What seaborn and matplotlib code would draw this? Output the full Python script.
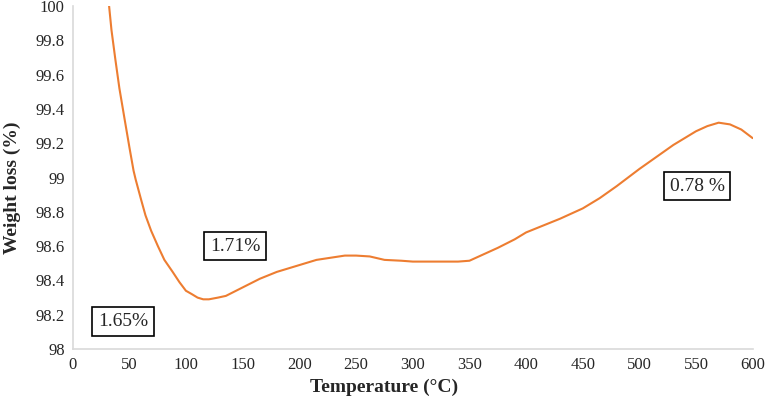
import matplotlib
matplotlib.use("Agg")
import matplotlib.pyplot as plt
import seaborn as sns
import pandas as pd

# TGA curve
temperature = [31.9, 34, 37.4, 41, 45.6, 50, 53.5, 55.3, 60.2, 64, 69, 75, 80.7, 88, 94,
               99.7, 105, 110, 115, 120, 128, 135, 150, 165, 180, 200, 215, 225, 240,
               250, 262, 275, 290, 300, 320, 340, 350, 360, 375, 390, 400, 415, 430,
               450, 465, 480, 500, 515, 530, 550, 560, 570, 580, 590, 600]
weight = [100.0, 99.86, 99.69, 99.52, 99.34, 99.17, 99.04, 98.99, 98.87, 98.78, 98.69,
          98.6, 98.52, 98.45, 98.39, 98.34, 98.32, 98.30, 98.29, 98.29, 98.3, 98.31,
          98.36, 98.41, 98.45, 98.49, 98.52, 98.53, 98.545, 98.545, 98.54, 98.52,
          98.515, 98.51, 98.51, 98.51, 98.515, 98.545, 98.59, 98.64, 98.68, 98.72,
          98.76, 98.82, 98.88, 98.95, 99.05, 99.12, 99.19, 99.27, 99.3, 99.32, 99.31,
          99.28, 99.23]

labels = ["1.65%", "1.71%", "0.78 %"]
label_x = [44, 143, 551]
label_y = [98.16, 98.60, 98.95]

x_ticks = list(range(0, 601, 50))
y_ticks = [98, 98.2, 98.4, 98.6, 98.8, 99, 99.2, 99.4, 99.6, 99.8, 100]
y_tick_labels = ["98", "98.2", "98.4", "98.6", "98.8", "99", "99.2", "99.4", "99.6", "99.8", "100"]

df = pd.DataFrame({"temperature": temperature, "weight": weight})

sns.set_style("white")
plt.rcParams["font.family"] = ["Liberation Serif", "DejaVu Serif"]

fig = plt.figure(figsize=(7.68, 4.04), dpi=100)
ax = fig.add_axes([0.095, 0.136, 0.885, 0.849])

sns.lineplot(data=df, x="temperature", y="weight", color="#ED7D31", linewidth=1.5, ax=ax)

for txt, tx, ty in zip(labels, label_x, label_y):
    ax.text(tx, ty, txt, fontsize=14, ha="center", va="center",
            bbox=dict(boxstyle="square,pad=0.3", facecolor="white", edgecolor="black", linewidth=1.2))

ax.set_xlim(0, 600)
ax.set_ylim(98, 100)
ax.set_xticks(x_ticks)
ax.set_yticks(y_ticks)
ax.set_yticklabels(y_tick_labels)
ax.tick_params(axis="both", labelsize=12, length=0, pad=6)
ax.set_xlabel("Temperature (\u00b0C)", fontsize=14, fontweight="bold")
ax.set_ylabel("Weight loss (%)", fontsize=14, fontweight="bold")
# labels in the reference are centred on the figure rather than the axes
ax.xaxis.set_label_coords(0.457, -0.085)
ax.yaxis.set_label_coords(-0.077, 0.47)

for side in ["top", "right"]:
    ax.spines[side].set_visible(False)
for side in ["left", "bottom"]:
    ax.spines[side].set_color("#D9D9D9")
    ax.spines[side].set_linewidth(1.2)

fig.savefig("out.png", dpi=100)
